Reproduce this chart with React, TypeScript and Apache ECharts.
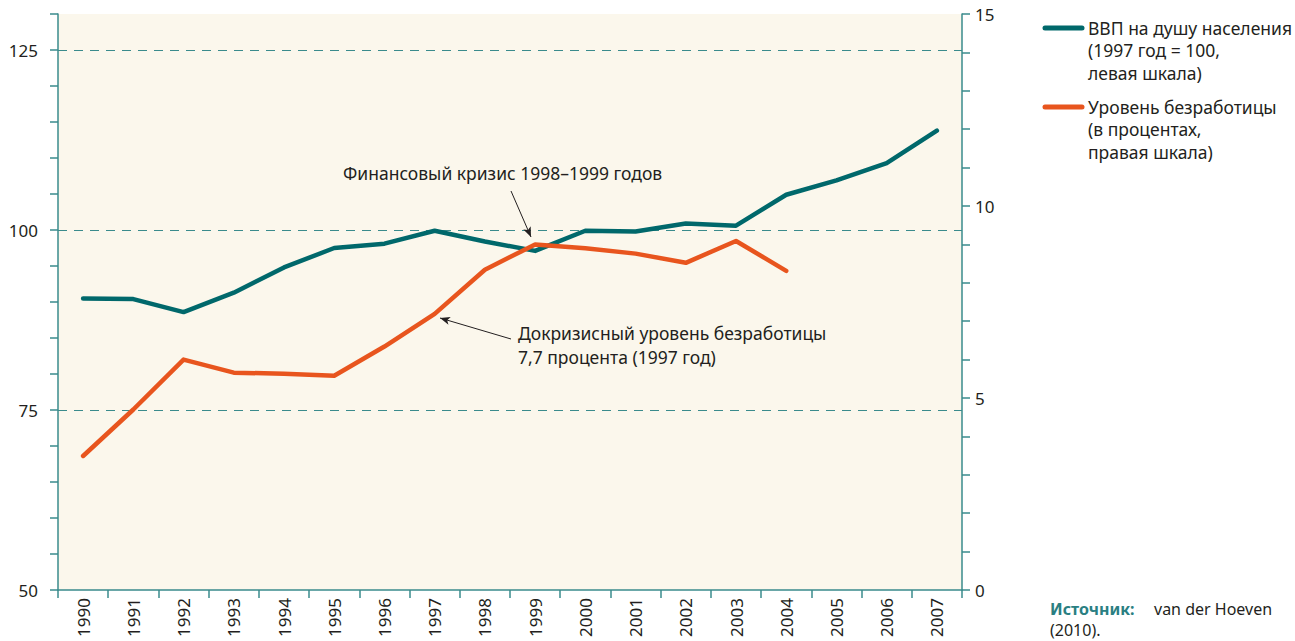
import React, { useEffect, useRef } from "react";
import * as echarts from "echarts";

const years = ["1990","1991","1992","1993","1994","1995","1996","1997","1998","1999","2000","2001","2002","2003","2004","2005","2006","2007"];
const gdpPerCapita = [90.5, 90.4, 88.6, 91.3, 94.8, 97.5, 98.1, 99.9, 98.4, 97.1, 99.9, 99.8, 100.9, 100.6, 104.9, 106.9, 109.3, 113.8];
const unemployment = [3.49, 4.7, 6.0, 5.66, 5.63, 5.58, 6.34, 7.19, 8.34, 9.0, 8.9, 8.76, 8.52, 9.09, 8.31, null, null, null];
const leftGridValues = [75, 100, 125];

const TEAL = "#00686B";
const ORANGE = "#E8551E";
const AXIS = "#3A8B8C";
const TEXT = "#231F20";
const FONT = "Noto Sans";

export default function App() {
  const ref = useRef<HTMLDivElement>(null);
  useEffect(() => {
    document.body.style.margin = "0";
    const chart = echarts.init(ref.current!, null, { renderer: "svg" });
    const txt = (text: string, x: number, y: number, extra: any = {}) => ({
      type: "text",
      x,
      y,
      style: { text, fill: TEXT, font: `17.5px "${FONT}"`, textVerticalAlign: "middle", ...extra },
      silent: true,
    });
    chart.setOption({
      animation: false,
      grid: { left: 58, right: 333, top: 14, bottom: 51, show: true, backgroundColor: "#FBF7EC", borderWidth: 0 },
      xAxis: {
        type: "category",
        data: years,
        boundaryGap: true,
        axisLine: { lineStyle: { color: AXIS, width: 1.5 } },
        axisTick: { show: true, length: 8, interval: 0, lineStyle: { color: AXIS, width: 1.5 } },
        axisLabel: { rotate: 90, interval: 0, margin: 8, fontSize: 17, color: TEXT, fontFamily: FONT },
        splitLine: { show: false },
      },
      yAxis: [
        {
          type: "value",
          position: "left",
          min: 50,
          max: 130,
          interval: 5,
          axisLine: { show: true, lineStyle: { color: AXIS, width: 1.5 } },
          axisTick: { show: true, length: 8, lineStyle: { color: AXIS, width: 1.5 } },
          axisLabel: {
            margin: 20,
            fontSize: 17,
            color: TEXT,
            fontFamily: FONT,
            formatter: (v: number) => (v % 25 === 0 ? String(v) : ""),
          },
          splitLine: { show: false },
        },
        {
          type: "value",
          position: "right",
          min: 0,
          max: 15,
          interval: 1,
          axisLine: { show: true, lineStyle: { color: AXIS, width: 1.5 } },
          axisTick: { show: true, length: 8, lineStyle: { color: AXIS, width: 1.5 } },
          axisLabel: {
            margin: 13,
            fontSize: 17,
            color: TEXT,
            fontFamily: FONT,
            formatter: (v: number) => (v % 5 === 0 ? String(v) : ""),
          },
          splitLine: { show: false },
        },
      ],
      series: [
        {
          name: "ВВП на душу населения (1997 год = 100, левая шкала)",
          type: "line",
          yAxisIndex: 0,
          data: gdpPerCapita,
          symbol: "none",
          z: 3,
          lineStyle: { color: TEAL, width: 4.5, cap: "round", join: "round" },
          markLine: {
            silent: true,
            z: 1,
            symbol: ["none", "none"],
            label: { show: false },
            lineStyle: { color: AXIS, width: 1, type: [9, 7] },
            data: leftGridValues.map((v) => ({ yAxis: v })),
          },
        },
        {
          name: "Уровень безработицы (в процентах, правая шкала)",
          type: "line",
          yAxisIndex: 1,
          data: unemployment,
          symbol: "none",
          z: 4,
          lineStyle: { color: ORANGE, width: 4.5, cap: "round", join: "round" },
          markLine: {
            silent: true,
            z: 6,
            symbol: ["none", "arrow"],
            symbolSize: [6, 10],
            label: { show: false },
            lineStyle: { color: TEXT, width: 1, type: "solid" },
            data: [
              [{ x: 511, y: 191 }, { x: 531, y: 237 }],
              [{ x: 511, y: 339 }, { x: 440, y: 318 }],
            ],
          },
        },
      ],
      graphic: [
        txt("Финансовый кризис 1998–1999 годов", 343, 173),
        txt("Докризисный уровень безработицы", 518, 333),
        txt("7,7 процента (1997 год)", 518, 357),
        { type: "line", shape: { x1: 1045, y1: 28, x2: 1082, y2: 28 }, style: { stroke: TEAL, lineWidth: 5, lineCap: "round" }, silent: true },
        txt("ВВП на душу населения", 1088, 28),
        txt("(1997 год = 100,", 1088, 50),
        txt("левая шкала)", 1088, 73),
        { type: "line", shape: { x1: 1045, y1: 107, x2: 1082, y2: 107 }, style: { stroke: ORANGE, lineWidth: 5, lineCap: "round" }, silent: true },
        txt("Уровень безработицы", 1088, 107),
        txt("(в процентах,", 1088, 129),
        txt("правая шкала)", 1088, 152),
        txt("Источник:", 1050, 609, { fill: "#2A7F82", font: `bold 16px "${FONT}"`, lineHeight: 18 }),
        txt("van der Hoeven", 1154, 609, { font: `16px "${FONT}"`, lineHeight: 18 }),
        txt("(2010).", 1050, 630, { font: `16px "${FONT}"`, lineHeight: 18 }),
      ],
    });
    return () => chart.dispose();
  }, []);
  return <div ref={ref} style={{ width: 1295, height: 641 }} />;
}
